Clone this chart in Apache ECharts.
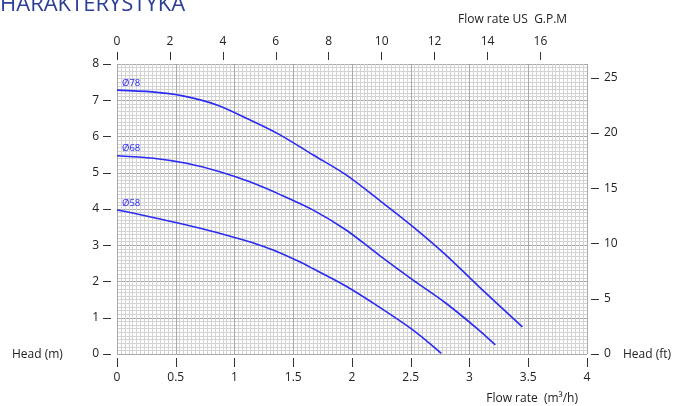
<!DOCTYPE html>
<html>
<head>
<meta charset="utf-8">
<script src="https://cdn.jsdelivr.net/npm/echarts@6/dist/echarts.min.js"></script>
<style>
  html, body { margin: 0; padding: 0; background: #fff; }
  #chart { width: 675px; height: 406px; }
</style>
</head>
<body>
<div id="chart"></div>
<script>
// pump curves, flow in m3/h, head in m
const flow78 = [0, 0.3, 0.56, 0.85, 1.13, 1.38, 1.67, 1.95, 2.23, 2.52, 2.80, 3.08, 3.45];
const head78 = [7.28, 7.23, 7.12, 6.87, 6.46, 6.06, 5.49, 4.94, 4.25, 3.51, 2.73, 1.86, 0.75];

const flow68 = [0, 0.31, 0.59, 0.875, 1.13, 1.38, 1.67, 1.95, 2.23, 2.52, 2.80, 3.08, 3.22];
const head68 = [5.47, 5.40, 5.26, 5.03, 4.75, 4.41, 3.97, 3.42, 2.73, 2.04, 1.40, 0.66, 0.25];

const flow58 = [0, 0.22, 0.51, 0.79, 1.07, 1.21, 1.36, 1.55, 1.67, 1.95, 2.23, 2.52, 2.76];
const head58 = [3.97, 3.83, 3.62, 3.40, 3.15, 3.01, 2.83, 2.55, 2.35, 1.87, 1.30, 0.66, 0.02];

const curveNames = ['Ø78', 'Ø68', 'Ø58'];

// secondary scales
const gpmTicks = [0, 2, 4, 6, 8, 10, 12, 14, 16];
const ftTicks = [0, 5, 10, 15, 20, 25];
const gpmPerM3h = 4.44;
const ftPerM = 3.281;

const font = 'Open Sans';
const blue = '#2b2bf2';

const chart = echarts.init(document.getElementById('chart'));

function curve(name, xs, ys) {
  const data = xs.map((x, i) => {
    const item = { value: [x, ys[i]] };
    if (i === 0) {
      item.label = {
        show: true,
        formatter: name,
        position: [5, -12],
        color: blue,
        fontSize: 9.5,
        fontFamily: font
      };
    }
    return item;
  });
  return {
    name: name,
    type: 'line',
    xAxisIndex: 0,
    yAxisIndex: 0,
    smooth: 0.3,
    symbol: 'circle',
    symbolSize: 0,
    showSymbol: true,
    lineStyle: { color: blue, width: 1.6 },
    itemStyle: { color: blue },
    emphasis: { disabled: true },
    data: data
  };
}

const labelStyle = { color: '#222', fontSize: 12, fontFamily: font };
const noLine = { show: false, onZero: false };
const tick = (len, values) => {
  const t = { show: true, length: len, lineStyle: { color: '#333' } };
  if (values) t.customValues = values;
  return t;
};

chart.setOption({
  animation: false,
  grid: { left: 117, right: 88, top: 64, bottom: 52 },
  graphic: [
    { type: 'text', x: 0, y: -6, style: { text: 'HARAKTERYSTYKA', fill: '#2d3e96', font: '22px "Open Sans"', verticalAlign: 'top' } },
    { type: 'text', x: 458, y: 20, style: { text: 'Flow rate US  G.P.M', fill: '#222', fontSize: 12, fontFamily: font, verticalAlign: 'middle' } },
    { type: 'text', x: 12, y: 355, style: { text: 'Head (m)', fill: '#222', fontSize: 12, fontFamily: font, verticalAlign: 'middle' } },
    { type: 'text', x: 623, y: 355, style: { text: 'Head (ft)', fill: '#222', fontSize: 12, fontFamily: font, verticalAlign: 'middle' } },
    { type: 'text', x: 578, y: 399, style: { text: 'Flow rate  (m³/h)', fill: '#222', fontSize: 12, fontFamily: font, align: 'right', verticalAlign: 'middle' } }
  ],
  xAxis: [
    {
      type: 'value', position: 'bottom', min: 0, max: 4, interval: 0.5, offset: 4,
      axisLine: noLine,
      axisTick: tick(9),
      axisLabel: Object.assign({ margin: 14 }, labelStyle),
      splitLine: { show: true, lineStyle: { color: '#a9a9a9', width: 1 } },
      minorTick: { show: false, splitNumber: 15 },
      minorSplitLine: { show: true, lineStyle: { color: '#d3d3d3', width: 1 } }
    },
    {
      type: 'value', position: 'top', min: 0, max: 4 * gpmPerM3h, offset: 4,
      axisLine: noLine,
      axisTick: tick(8, gpmTicks),
      axisLabel: Object.assign({ margin: 12, customValues: gpmTicks }, labelStyle),
      splitLine: { show: false }
    }
  ],
  yAxis: [
    {
      type: 'value', position: 'left', min: 0, max: 8, interval: 1, offset: 6,
      axisLine: noLine,
      axisTick: tick(8),
      axisLabel: Object.assign({ margin: 12 }, labelStyle),
      splitLine: { show: true, lineStyle: { color: '#a9a9a9', width: 1 } },
      minorTick: { show: false, splitNumber: 10 },
      minorSplitLine: { show: true, lineStyle: { color: '#d3d3d3', width: 1 } }
    },
    {
      type: 'value', position: 'right', min: 0, max: 8 * ftPerM, offset: 4,
      axisLine: noLine,
      axisTick: tick(8, ftTicks),
      axisLabel: Object.assign({ margin: 13, customValues: ftTicks }, labelStyle),
      splitLine: { show: false }
    }
  ],
  series: [
    curve(curveNames[0], flow78, head78),
    curve(curveNames[1], flow68, head68),
    curve(curveNames[2], flow58, head58)
  ]
});
</script>
</body>
</html>
